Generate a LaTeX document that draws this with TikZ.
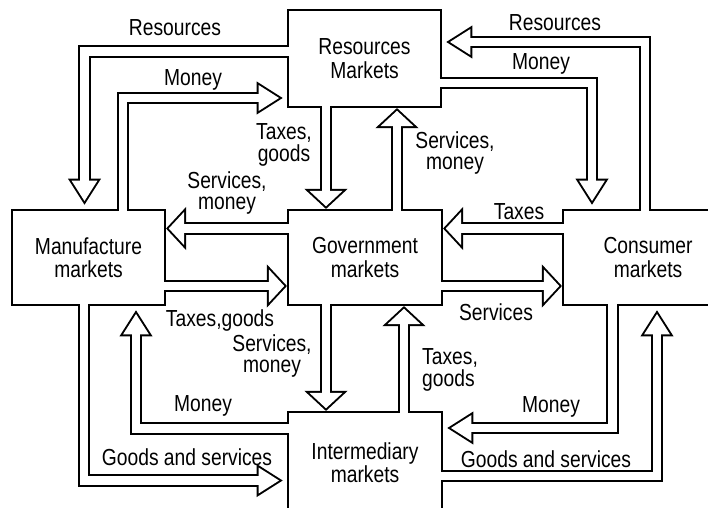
\documentclass[tikz,border=0pt]{standalone}
\usepackage{fontspec}
\setmainfont[FakeStretch=0.83]{Liberation Sans}
\usetikzlibrary{arrows.meta}
\tikzset{
    market/.style = {rectangle, draw=black, line width=1.5pt, align=center, inner sep=0pt, font=\fontsize{16.5}{16.6}\selectfont},
    flowtxt/.style = {align=center, inner sep=0pt, font=\fontsize{16.5}{15.5}\selectfont},
    flowl/.style = {draw=black, line width=9pt, shorten <=-1.5pt, shorten >=3pt, -{Triangle[length=18.5pt,width=23.5pt,line width=0pt]},
        postaction={draw=white, line width=6.2pt, shorten <=-1.5pt, shorten >=5.61pt, -{Triangle[length=14.49pt,width=18.41pt,line width=0pt]}}}, % bent
    flows/.style = {draw=black, line width=9pt, shorten <=-1.5pt, -{Triangle[length=14.2pt,width=30.6pt,line width=0pt]},
        postaction={draw=white, line width=6.2pt, shorten <=-1.5pt, shorten >=1.91pt, -{Triangle[length=10.89pt,width=23.47pt,line width=0pt]}}} % straight
}
\begin{document}
\begin{tikzpicture}[x=0.025cm,y=-0.025cm]
\path[use as bounding box] (0,0) rectangle (708,507);
\clip (0,0) rectangle (708,507);
%
\node[market,minimum width=3.825cm,minimum height=2.425cm] at (364.5,58.5) (res) {Resources\\Markets};
\node[market,minimum width=3.825cm,minimum height=2.375cm] at (88.5,257.5) (manu) {Manufacture\\markets};
\node[market,minimum width=3.85cm,minimum height=2.375cm] at (365,257.5) (gov) {Government\\markets};
\node[market,minimum width=4.25cm,minimum height=2.375cm] at (648,257.5) (cons) {Consumer\\markets};
\node[market,minimum width=3.85cm,minimum height=2.55cm] at (365,463) (inter) {Intermediary\\markets};
%
\draw[flowl] (res.west |- 0,51.5) -| (manu.north -| 84.5,0);
\draw[flowl] (manu.north -| 123,0) |- (res.west |- 0,98);
\draw[flows] (res.south -| 326,0) -- (gov.north -| 326,0);
\draw[flows] (gov.west |- 0,228.5) -- (manu.east |- 0,228.5);
\draw[flows] (manu.east |- 0,286) -- (gov.west |- 0,286);
\draw[flows] (gov.north -| 397,0) -- (res.south -| 397,0);
\draw[flowl] (cons.north -| 645,0) |- (res.east |- 0,42);
\draw[flowl] (res.east |- 0,83) -| (cons.north -| 592,0);
\draw[flows] (cons.west |- 0,228.5) -- (gov.east |- 0,228.5);
\draw[flows] (gov.east |- 0,286) -- (cons.west |- 0,286);
\draw[flows] (gov.south -| 326,0) -- (inter.north -| 326,0);
\draw[flows] (inter.north -| 404,0) -- (gov.south -| 404,0);
\draw[flowl] (inter.west |- 0,428.5) -| (manu.south -| 136,0);
\draw[flowl] (manu.south -| 84,0) |- (inter.west |- 0,480.5);
\draw[flowl] (cons.south -| 612.5,0) |- (inter.east |- 0,428);
\draw[flowl] (inter.east |- 0,476) -| (cons.south -| 657,0);
%
\node[flowtxt] at (175,28) (t1) {Resources};
\node[flowtxt] at (193,80) (t2) {Money};
\node[flowtxt] at (284,145) (t3) {Taxes,\\goods};
\node[flowtxt] at (227,193) (t4) {Services,\\money};
\node[flowtxt] at (455,153) (t5) {Services,\\money};
\node[flowtxt] at (555,23) (t6) {Resources};
\node[flowtxt] at (541,64) (t7) {Money};
\node[flowtxt] at (519,212) (t8) {Taxes};
\node[flowtxt] at (220,320) (t9) {Taxes,goods};
\node[flowtxt] at (272,356) (t10) {Services,\\money};
\node[flowtxt] at (203,406) (t11) {Money};
\node[flowtxt] at (187,457) (t12) {Goods and services};
\node[flowtxt] at (496,312) (t13) {Services};
\node[flowtxt,align=left] at (450,370) (t14) {Taxes,\\goods};
\node[flowtxt] at (551,407) (t15) {Money};
\node[flowtxt] at (546,459) (t16) {Goods and services};

\end{tikzpicture}
\end{document}
